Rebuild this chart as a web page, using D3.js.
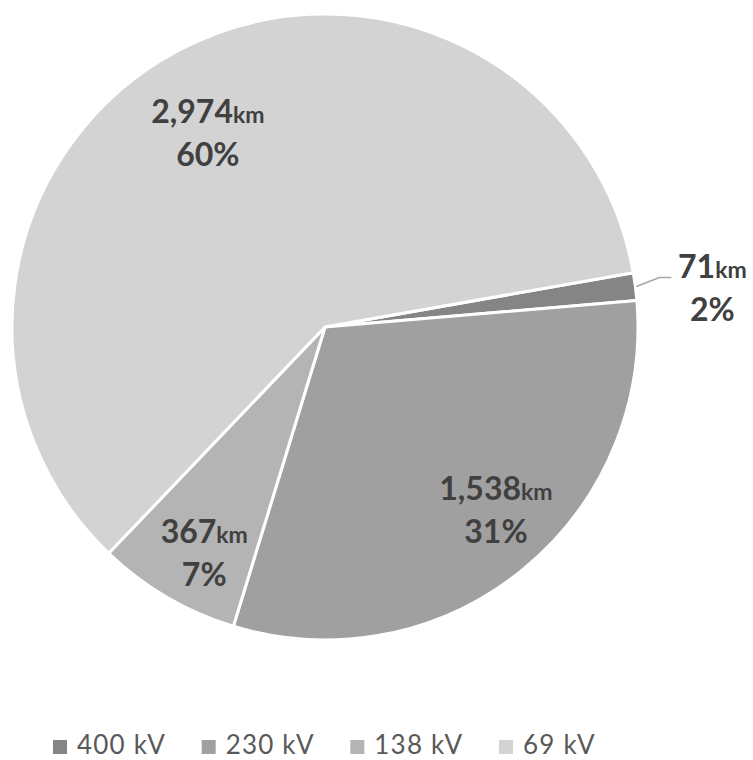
<!DOCTYPE html>
<html>
<head>
<meta charset="utf-8">
<script src="https://cdn.jsdelivr.net/npm/d3@7/dist/d3.min.js"></script>
<style>
  html, body { margin: 0; padding: 0; background: #ffffff; }
  svg { display: block; }
</style>
</head>
<body>
<svg id="chart" width="753" height="760"></svg>
<script>
// Transmission line length by voltage level
const categories = ["400 kV", "230 kV", "138 kV", "69 kV"];
const lengthsKm = [71, 1538, 367, 2974];
const percentLabels = ["2%", "31%", "7%", "60%"];

const colors = ["#858585", "#a0a0a0", "#b4b4b4", "#d3d3d3"];

const width = 753, height = 760;
const cx = 325, cy = 327, radius = 313;
const rotation = 80 * Math.PI / 180;

// label distance from centre (fraction of radius) and angular nudge, per slice
const labelRadius = { "400 kV": 1.2, "230 kV": 0.819, "138 kV": 0.842, "69 kV": 0.702 };
const labelAngleShift = { "400 kV": 0, "230 kV": -0.051, "138 kV": -0.054, "69 kV": -0.071 };

const data = categories.map((c, i) => ({ cat: c, km: lengthsKm[i], pct: percentLabels[i], color: colors[i] }));

const svg = d3.select("#chart");
const g = svg.append("g").attr("transform", `translate(${cx},${cy})`);

const pie = d3.pie().sort(null).value(d => d.km)
  .startAngle(rotation).endAngle(rotation + 2 * Math.PI);
const arcs = pie(data);
const arc = d3.arc().innerRadius(0).outerRadius(radius);

g.selectAll("path.slice")
  .data(arcs)
  .join("path")
  .attr("class", "slice")
  .attr("d", arc)
  .attr("fill", d => d.data.color)
  .attr("stroke", "#ffffff")
  .attr("stroke-width", 3)
  .attr("stroke-linejoin", "round");

const fmt = d3.format(",");

arcs.forEach(a => {
  const mid = (a.startAngle + a.endAngle) / 2 + labelAngleShift[a.data.cat];
  const r = radius * labelRadius[a.data.cat];
  let x = Math.sin(mid) * r;
  let y = -Math.cos(mid) * r;
  const outside = labelRadius[a.data.cat] > 1;
  if (outside) {
    // leader line from the slice edge to the label
    const edgeMid = (a.startAngle + a.endAngle) / 2;
    const ex = Math.sin(edgeMid) * (radius + 1);
    const ey = -Math.cos(edgeMid) * (radius + 1);
    x = ex + 76; y = ey + 9.5;
    g.append("polyline")
      .attr("points", [[ex, ey], [ex + 23, ey - 9], [ex + 35, ey - 9]].map(p => p.join(",")).join(" "))
      .attr("fill", "none")
      .attr("stroke", "#a6a6a6")
      .attr("stroke-width", 1.5);
  }
  const t = g.append("text")
    .attr("text-anchor", "middle")
    .attr("font-family", "Lato, 'Open Sans', sans-serif")
    .attr("font-weight", "bold")
    .attr("fill", "#404040");
  const l1 = t.append("tspan").attr("x", x).attr("y", y - 18);
  l1.append("tspan").attr("font-size", 32).text(fmt(a.data.km));
  l1.append("tspan").attr("font-size", 23).text("km");
  t.append("tspan").attr("x", x).attr("y", y + 25)
    .attr("font-size", 32).text(a.data.pct);
});

// legend along the bottom
const legendX = d3.scalePoint().domain(categories).range([53, 499]);
const legend = svg.append("g");
const items = legend.selectAll("g.item")
  .data(data)
  .join("g")
  .attr("class", "item")
  .attr("transform", d => `translate(${legendX(d.cat)},0)`);
items.append("rect")
  .attr("x", 0).attr("y", 740)
  .attr("width", 14).attr("height", 14)
  .attr("fill", d => d.color);
items.append("text")
  .attr("x", 24).attr("y", 754)
  .attr("font-family", "Lato, 'Open Sans', sans-serif")
  .attr("font-size", 26)
  .attr("letter-spacing", 1.2)
  .attr("fill", "#595959")
  .text(d => d.cat);
</script>
</body>
</html>
